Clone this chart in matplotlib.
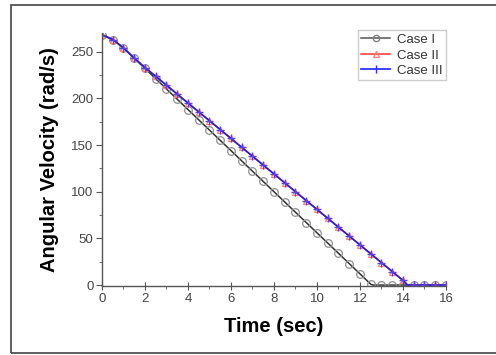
import numpy as np
import matplotlib
matplotlib.use("Agg")
import matplotlib.pyplot as plt
from matplotlib.patches import Rectangle
from matplotlib.ticker import MultipleLocator

plt.rcParams['font.family'] = ['Liberation Sans', 'DejaVu Sans']

# time samples (sec), one marker every 0.5 s
time = [0.0, 0.5, 1.0, 1.5, 2.0, 2.5, 3.0, 3.5, 4.0, 4.5, 5.0, 5.5, 6.0,
        6.5, 7.0, 7.5, 8.0, 8.5, 9.0, 9.5, 10.0, 10.5, 11.0, 11.5, 12.0,
        12.5, 13.0, 13.5, 14.0, 14.5, 15.0, 15.5, 16.0]

case1 = [268, 263, 254, 243, 232, 221, 210, 199, 188, 177, 166, 155, 144,
         133, 122, 111, 100, 89, 78, 67, 56, 45, 34, 23, 12,
         1, 0, 0, 0, 0, 0, 0, 0]
case2 = [268, 263, 254, 243, 233, 223.5, 214, 204.5, 195, 185.5, 176, 166.5, 157,
         147.5, 138, 128.5, 119, 109.5, 100, 90.5, 81, 71.5, 62, 52.5, 43,
         33.5, 24, 14.5, 5, 0, 0, 0, 0]
case3 = list(case2)

# time where each speed hits zero
t1_stop = 12.6
t2_stop = 14.2

labels = ['Case I', 'Case II', 'Case III']

fig = plt.figure(figsize=(4.96, 3.55), dpi=100)
ax = fig.add_axes([0.2056, 0.1944, 0.6935, 0.7127])

# splice in the zero-crossing so the lines hit 0 where they do in the figure
def with_stop(t, v, ts):
    tt = list(t)
    vv = list(v)
    i = int(np.searchsorted(tt, ts))
    tt.insert(i, ts)
    vv.insert(i, 0)
    return tt, vv

l1t, l1v = with_stop(time, case1, t1_stop)
l2t, l2v = with_stop(time, case2, t2_stop)

ax.plot(l1t, l1v, color='#333333', lw=1.1)
ax.plot(time, case1, ls='none', marker='o', ms=5.5, mfc='none',
        mec='#909090', mew=0.9)
ax.plot(l2t, l2v, color='#ff3030', lw=1.1)
ax.plot(time, case2, ls='none', marker='^', ms=5, mfc='none',
        mec='#ff8080', mew=0.9)
ax.plot(l2t, l2v, color='#2020e0', lw=1.2)
ax.plot(time, case3, ls='none', marker='+', ms=6, mec='#6040e0', mew=1.0)

# legend proxies
h1, = ax.plot([], [], color='#555555', lw=1.1, marker='o', ms=4.5,
              mfc='none', mec='#808080')
h2, = ax.plot([], [], color='#ff3030', lw=1.1, marker='^', ms=4.5,
              mfc='none', mec='#ff8080')
h3, = ax.plot([], [], color='#3030ff', lw=1.3, marker='|', ms=6,
              mec='#3030ff')
leg = ax.legend([h1, h2, h3], labels, loc='upper right',
                bbox_to_anchor=(1.0, 1.01), borderaxespad=0,
                fontsize=9.5, handlelength=2.2, handletextpad=0.5,
                labelspacing=0.25, borderpad=0.25, fancybox=False,
                edgecolor='#cccccc', framealpha=1)
for t in leg.get_texts():
    t.set_color('#333333')

ax.set_xlim(0, 16)
ax.set_ylim(-1, 270)
ax.xaxis.set_major_locator(MultipleLocator(2))
ax.xaxis.set_minor_locator(MultipleLocator(1))
ax.yaxis.set_major_locator(MultipleLocator(50))
ax.yaxis.set_minor_locator(MultipleLocator(25))

for s in ['top', 'right']:
    ax.spines[s].set_visible(False)
for s in ['left', 'bottom']:
    ax.spines[s].set_color('#555555')
    ax.spines[s].set_linewidth(1.0)

ax.tick_params(axis='x', which='major', direction='inout', length=6,
               color='#555555', labelsize=9.5, labelcolor='#444444', pad=2)
ax.tick_params(axis='x', which='minor', direction='out', length=2.5,
               color='#555555')
ax.tick_params(axis='y', which='major', direction='out', length=4,
               color='#555555', labelsize=9.5, labelcolor='#444444', pad=2)
ax.tick_params(axis='y', which='minor', direction='out', length=2.5,
               color='#555555')

ax.set_xlabel('Time (sec)', fontsize=14.5, fontweight='bold', labelpad=9)
ax.set_ylabel('Angular Velocity (rad/s)', fontsize=14.5, fontweight='bold',
              labelpad=9)

# outer frame of the original figure
frame = Rectangle((11 / 496, 1 - 353 / 355), 1.0, (353 - 5) / 355,
                  transform=fig.transFigure, fill=False,
                  edgecolor='#444444', lw=1.2, clip_on=False)
fig.patches.append(frame)

fig.savefig('out.png', dpi=100)
